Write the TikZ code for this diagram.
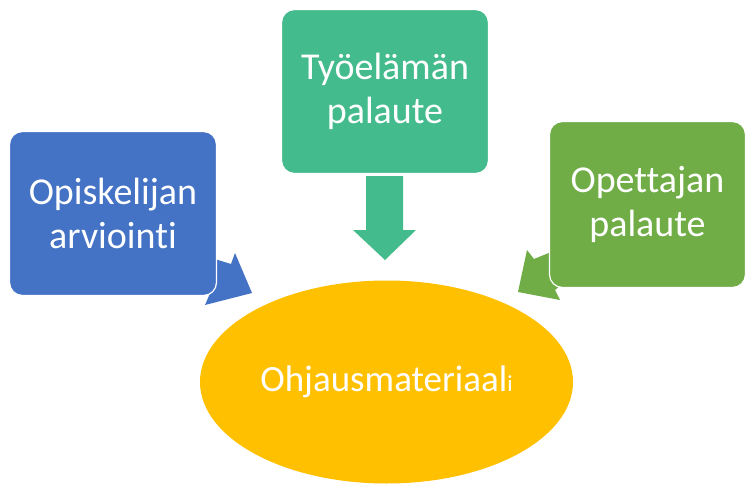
\documentclass[tikz,border=0pt]{standalone}
\usepackage{fontspec}
\setmainfont[Ligatures=NoCommon]{Carlito}
\usetikzlibrary{shapes.geometric}
\definecolor{cblue}{HTML}{4472C4}
\definecolor{cteal}{HTML}{44BB8C}
\definecolor{cgreen}{HTML}{70AD47}
\definecolor{cgold}{HTML}{FFC000}
\tikzset{
  feedbox/.style={rectangle, rounded corners=13pt, draw=white, line width=1.2pt,
    text=white, align=center, font=\fontsize{38}{44}\selectfont, inner sep=0pt}
}
\begin{document}
\begin{tikzpicture}[x=1pt, y=-1pt]
  \useasboundingbox (0,0) rectangle (747,484);
  \fill[white] (0,0) rectangle (747,484);

  % central ellipse
  \node[ellipse, fill=cgold, minimum width=373pt, minimum height=203pt, inner sep=0pt,
        text=white, font=\fontsize{37}{43}\selectfont] (mat) at (386.5,382)
        {Ohjausmateriaal{\fontsize{23}{23}\selectfont i}};

  % callout pointers, drawn below the boxes
  \fill[cblue] (205,256) -- (231,264) -- (235,253) -- (252,293) -- (205,305)
               -- (211,291) -- (205,288) -- cycle;
  \fill[cgreen] (556,250) -- (534,259) -- (527,250) -- (518,292) -- (560,300)
                -- (555,290) -- (560,286) -- cycle;
  \fill[cteal] (366,176) -- (403,176) -- (403,230) -- (416,230) -- (385,260)
               -- (353,230) -- (366,230) -- cycle;

  % feedback boxes
  \node[feedbox, fill=cblue, minimum width=207pt, minimum height=164pt]
        (stud) at (113,213.5) {Opiskelijan\\arviointi};
  \node[feedbox, fill=cteal, minimum width=207pt, minimum height=164pt]
        (work) at (385,91.5) {Työelämän\\palaute};
  \node[feedbox, fill=cgreen, minimum width=196pt, minimum height=166pt]
        (teach) at (647.5,204.5) {Opettajan\\palaute};
\end{tikzpicture}
\end{document}
